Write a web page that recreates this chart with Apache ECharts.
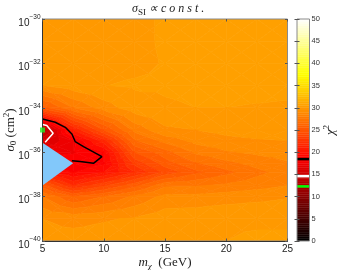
<!DOCTYPE html>
<html><head><meta charset="utf-8">
<style>html,body{margin:0;padding:0;background:#fff}#c{width:337px;height:270px}</style>
<script src="https://cdn.jsdelivr.net/npm/echarts@6/dist/echarts.min.js"></script>
</head><body><div id="c"></div>
<script>
var massGeV=[5,7.5,10,12.5,15,17.5,20,22.5,25];
var logSigma=[-30,-31,-32,-33,-34,-35,-35.5,-36,-36.5,-36.9,-37.5,-38,-39,-40];
var chi2Row30=[30.5,30.6,30.7,30.8,31.1,31.2,31.2,31.2,31.2];
var chi2Row31=[30.5,30.6,30.7,30.8,31.1,31.2,31.2,31.2,31.2];
var chi2Row32=[30.5,30.6,30.75,30.8,31.05,31.2,31.2,31.2,31.2];
var chi2Row33=[30.0,30.6,30.98,31.1,31.1,31.15,31.2,31.2,31.2];
var chi2Row34=[25.5,28.0,29.5,30.6,30.9,31.0,31.0,30.95,30.9];
var chi2Row35=[13.0,21.0,25.0,28.3,29.8,30.0,30.3,30.4,30.4];
var chi2Row355=[16.0,17.8,21.5,26.8,28.3,29.3,29.7,29.9,30.0];
var chi2Row36=[17.8,17.9,19.0,25.0,26.6,28.2,28.9,29.2,29.4];
var chi2Row365=[18.4,18.4,18.8,23.3,25.5,26.9,27.7,28.4,28.9];
var chi2Row369=[20.0,18.9,20.0,22.0,24.3,25.7,26.7,27.7,28.5];
var chi2Row375=[25.5,22.0,23.8,25.6,27.8,27.9,28.2,28.6,29.0];
var chi2Row38=[28.0,26.0,27.0,28.2,29.3,29.3,29.5,29.7,29.9];
var chi2Row39=[30.0,29.7,29.9,30.1,30.6,30.7,30.9,30.9,30.9];
var chi2Row40=[30.4,30.4,30.5,30.7,30.9,31.0,31.0,31.1,31.1];
var chi2Rows=[chi2Row30,chi2Row31,chi2Row32,chi2Row33,chi2Row34,chi2Row35,chi2Row355,chi2Row36,chi2Row365,chi2Row369,chi2Row375,chi2Row38,chi2Row39,chi2Row40];
var noDataRegion=[[5,-35.57],[7.5,-36.5],[5,-37.5]];
var blackContour=[[5,-34.5],[6.04,-34.65],[6.86,-34.88],[7.4,-35.18],[7.67,-35.52],[8.35,-35.75],[9.85,-36.2],[9.16,-36.5],[8.08,-36.42],[7.4,-36.39]];
var whiteContour=[[5,-34.75],[5.35,-34.8],[5.87,-35.15],[5.22,-35.55]];
var bestFit=[[5,-35]];
var barMarks=[[18.45,'#000000'],[14.6,'#ffffff'],[12.3,'#00ff00']];
var bandStep=1;

function hot(v){
  var t=Math.max(0,Math.min(1,v/50));
  var r=Math.min(1,t/0.375),g=Math.max(0,Math.min(1,(t-0.375)/0.375)),b=Math.max(0,(t-0.75)/0.25);
  return 'rgb('+Math.round(r*255)+','+Math.round(g*255)+','+Math.round(b*255)+')';
}
// Fill colours of the contour bands: the reference's orange plateau is flatter than the plain colour bar.
function bandColor(mid){
  if(mid<25.5)return hot(mid);
  var g=mid<30.5?91+(mid-25.5)*12.4:153+(mid-30.5)*7;
  return 'rgb(255,'+Math.round(g)+',0)';
}
function clip(poly,lev,above){
  var out=[];
  for(var i=0;i<poly.length;i++){
    var p=poly[i],q=poly[(i+1)%poly.length];
    var pin=above?p[2]>=lev:p[2]<=lev,qin=above?q[2]>=lev:q[2]<=lev;
    if(pin)out.push(p);
    if(pin!==qin){var t=(lev-p[2])/(q[2]-p[2]);out.push([p[0]+t*(q[0]-p[0]),p[1]+t*(q[1]-p[1]),lev]);}
  }
  return out;
}
var bands=[];
function addTri(a,b,c){
  var tri=[a,b,c],vs=[a[2],b[2],c[2]];
  var lo=Math.floor(Math.min.apply(null,vs)/bandStep)*bandStep,hi=Math.max.apply(null,vs);
  for(var l=lo;l<hi;l+=bandStep){
    var pl=clip(clip(tri,l,true),l+bandStep,false);
    if(pl.length>2)bands.push({pts:pl,color:bandColor(l+bandStep/2)});
  }
}
for(var r=0;r<logSigma.length-1;r++)for(var k=0;k<massGeV.length-1;k++){
  var A=[massGeV[k],logSigma[r],chi2Rows[r][k]],B=[massGeV[k+1],logSigma[r],chi2Rows[r][k+1]],
      C=[massGeV[k+1],logSigma[r+1],chi2Rows[r+1][k+1]],D=[massGeV[k],logSigma[r+1],chi2Rows[r+1][k]];
  var M=[(A[0]+B[0])/2,(A[1]+D[1])/2,(A[2]+B[2]+C[2]+D[2])/4];
  addTri(A,B,M);addTri(B,C,M);addTri(C,D,M);addTri(D,A,M);
}
var barBands=[];for(var v=0;v<50;v+=0.5)barBands.push(v);

var font='"Liberation Sans",sans-serif',serif='"Liberation Serif",serif';
var frameDark='#333',frameGrey='#8a8a8a';
function tick(c){return {show:true,inside:true,length:2.5,lineStyle:{color:c,width:1}};}
var chart=echarts.init(document.getElementById('c'),null,{renderer:'canvas'});
var mathRich={
  m:{fontFamily:serif,fontStyle:'italic',fontWeight:'normal',fontSize:13,color:'#222',lineHeight:16,verticalAlign:'middle'},
  n:{fontFamily:serif,fontWeight:'normal',fontSize:13,color:'#222',lineHeight:16,verticalAlign:'middle'},
  t:{fontFamily:serif,fontStyle:'italic',fontWeight:'normal',fontSize:12,color:'#222',lineHeight:16,verticalAlign:'middle'},
  sub:{fontFamily:serif,fontStyle:'italic',fontWeight:'normal',fontSize:9,color:'#222',lineHeight:8,verticalAlign:'bottom'},
  subr:{fontFamily:serif,fontWeight:'normal',fontSize:9,color:'#222',lineHeight:8,verticalAlign:'bottom'},
  sup:{fontFamily:serif,fontWeight:'normal',fontSize:9,color:'#222',lineHeight:8,verticalAlign:'top'}
};
chart.setOption({
  animation:false,
  backgroundColor:'#fff',
  title:{text:'{t|σ}{subr|SI}{t| }{t|∝ c o n s t .}',left:132,top:1,padding:0,textStyle:{fontWeight:'normal',rich:mathRich}},
  grid:[
    {left:42.5,top:19,width:245,height:222,outerBoundsMode:'none',containLabel:false,show:true,borderColor:frameGrey,borderWidth:1,backgroundColor:'transparent',z:3},
    {left:297,top:19,width:12.5,height:222,outerBoundsMode:'none',containLabel:false,show:true,borderColor:frameGrey,borderWidth:1,z:3}
  ],
  xAxis:[
    {type:'value',gridIndex:0,min:5,max:25,interval:5,position:'bottom',z:5,
     axisLine:{show:true,onZero:false,lineStyle:{color:frameDark,width:1}},axisTick:tick('#555'),splitLine:{show:false},
     axisLabel:{color:'#222',fontFamily:font,fontSize:10,margin:3,showMinLabel:true,showMaxLabel:true,hideOverlap:false},
     name:'{m|m}{sub|χ}{n|  (GeV)}',nameLocation:'middle',nameGap:14,nameMoveOverlap:false,nameTextStyle:{fontWeight:'normal',rich:mathRich}},
    {type:'value',gridIndex:0,min:5,max:25,interval:5,position:'top',z:5,
     axisLine:{show:false},axisTick:tick('#555'),axisLabel:{show:false},splitLine:{show:false}},
    {type:'value',gridIndex:1,min:0,max:1,show:false}
  ],
  yAxis:[
    {type:'value',gridIndex:0,min:-40,max:-30,interval:2,position:'left',z:5,
     axisLine:{show:true,onZero:false,lineStyle:{color:frameDark,width:1}},axisTick:tick('#555'),splitLine:{show:false},
     axisLabel:{color:'#222',margin:2,padding:[4,0,0,0],showMinLabel:true,showMaxLabel:true,hideOverlap:false,
       formatter:function(v){return '{a|10}{b|'+String(v).replace('-','−')+'}';},
       rich:{a:{fontFamily:font,fontSize:10,color:'#222',lineHeight:14,verticalAlign:'bottom'},
             b:{fontFamily:font,fontSize:6.5,color:'#222',lineHeight:8,verticalAlign:'top'}}},
     name:'{m|σ}{subr|0}{n| (cm}{sup|2}{n|)}',nameLocation:'middle',nameRotate:90,nameGap:24,nameMoveOverlap:false,nameTextStyle:{fontWeight:'normal',rich:mathRich}},
    {type:'value',gridIndex:0,min:-40,max:-30,interval:2,position:'right',z:5,
     axisLine:{show:false},axisTick:tick('#555'),axisLabel:{show:false},splitLine:{show:false}},
    {type:'value',gridIndex:1,min:0,max:50,interval:5,position:'right',z:5,
     axisLine:{show:false},axisTick:tick('#555'),splitLine:{show:false},
     axisLabel:{color:'#333',fontFamily:font,fontSize:7.5,margin:2,showMinLabel:true,showMaxLabel:true,hideOverlap:false},
     name:'{m|χ}{sup|2}',nameLocation:'middle',nameRotate:90,nameGap:13,nameMoveOverlap:false,nameTextStyle:{fontWeight:'normal',rich:mathRich}},
    {type:'value',gridIndex:1,min:0,max:50,interval:5,position:'left',z:5,
     axisLine:{show:false},axisTick:tick('#555'),axisLabel:{show:false},splitLine:{show:false}}
  ],
  series:[
    {type:'custom',coordinateSystem:'cartesian2d',xAxisIndex:0,yAxisIndex:0,clip:true,z:1,silent:true,
     data:bands.map(function(b,i){return [i];}),
     renderItem:function(p,api){
       var b=bands[api.value(0)];
       return {type:'polygon',shape:{points:b.pts.map(function(q){return api.coord([q[0],q[1]]);})},
               style:{fill:b.color,stroke:b.color,lineWidth:0.7}};
     }},
    {type:'custom',coordinateSystem:'cartesian2d',xAxisIndex:0,yAxisIndex:0,clip:true,z:2,silent:true,
     data:[[0]],
     renderItem:function(p,api){
       return {type:'polygon',shape:{points:noDataRegion.map(function(q){return api.coord(q);})},
               style:{fill:'#82c8fa',stroke:null}};
     }},
    {type:'line',xAxisIndex:0,yAxisIndex:0,data:blackContour,symbol:'none',z:3,silent:true,lineStyle:{color:'#000',width:1.5}},
    {type:'line',xAxisIndex:0,yAxisIndex:0,data:whiteContour,symbol:'none',z:3,silent:true,lineStyle:{color:'#fff',width:1.5}},
    {type:'scatter',xAxisIndex:0,yAxisIndex:0,data:bestFit,symbol:'rect',symbolSize:5,z:6,clip:false,silent:true,itemStyle:{color:'#22ee22'}},
    {type:'custom',coordinateSystem:'cartesian2d',xAxisIndex:2,yAxisIndex:2,clip:true,z:1,silent:true,
     data:barBands.map(function(v){return [0,v];}),
     renderItem:function(p,api){
       var v=api.value(1),a=api.coord([0,v]),b=api.coord([1,v+0.5]);
       return {type:'rect',shape:{x:a[0],y:b[1],width:b[0]-a[0],height:a[1]-b[1]},style:{fill:hot(v+0.25),stroke:hot(v+0.25),lineWidth:0.4}};
     }},
    {type:'custom',coordinateSystem:'cartesian2d',xAxisIndex:2,yAxisIndex:2,clip:true,z:2,silent:true,
     data:barMarks.map(function(m,i){return [i,m[0]];}),
     renderItem:function(p,api){
       var i=api.value(0),m=barMarks[i],a=api.coord([0,m[0]]),b=api.coord([1,m[0]]);
       return {type:'rect',shape:{x:a[0],y:a[1]-1.25,width:b[0]-a[0],height:2.5},style:{fill:m[1]}};
     }}
  ]
});
</script></body></html>
